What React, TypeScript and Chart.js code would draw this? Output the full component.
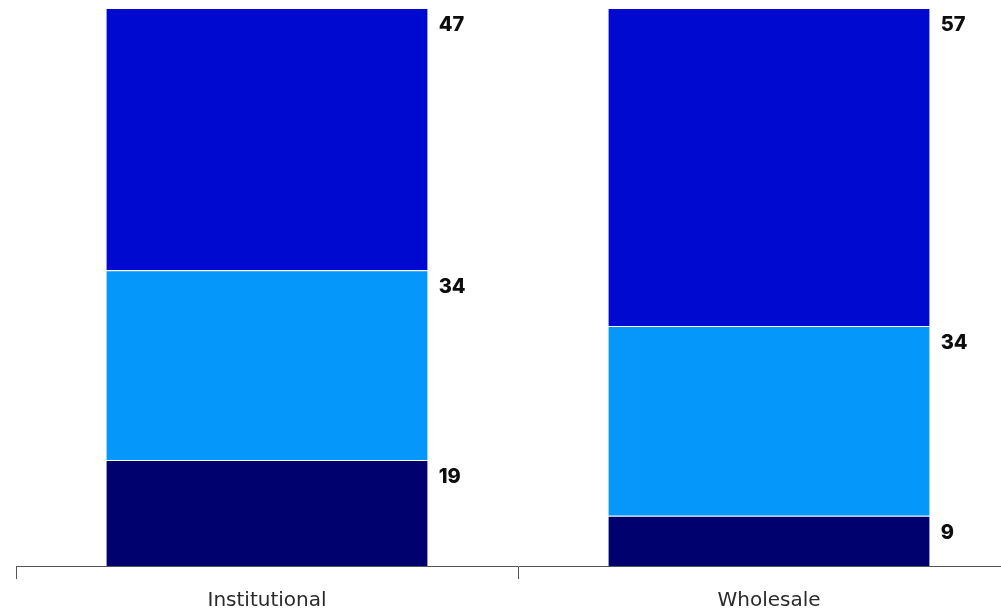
import React, { useEffect, useRef } from "react";
import { Chart, registerables } from "chart.js";

Chart.register(...registerables);

const categories = ["Institutional", "Wholesale"];
const seriesBottom = [19, 9];
const seriesMiddle = [34, 34];
const seriesTop = [47, 57];
const seriesColors = ["#00006f", "#0598fa", "#0009cf"];

const valueLabels = {
  id: "valueLabels",
  afterDatasetsDraw(chart: any) {
    const ctx = chart.ctx;
    ctx.save();
    ctx.fillStyle = "#0d0d0d";
    ctx.font = "800 20px Inter, 'DejaVu Sans', sans-serif";
    ctx.textAlign = "left";
    ctx.textBaseline = "middle";
    chart.data.datasets.forEach((ds: any, di: number) => {
      const meta = chart.getDatasetMeta(di);
      meta.data.forEach((bar: any, i: number) => {
        const props = bar.getProps(["x", "y", "width"], true);
        ctx.fillText(String(ds.data[i]), props.x + props.width / 2 + 11, props.y + 17);
      });
    });
    ctx.restore();
  },
};

export default function App() {
  const ref = useRef<HTMLCanvasElement>(null);
  useEffect(() => {
    if (!ref.current) return;
    const mk = (label: string, data: number[], color: string) => ({
      label,
      data,
      backgroundColor: color,
      borderColor: "#ffffff",
      borderWidth: { top: 1, left: 0, right: 0, bottom: 0 },
      borderSkipped: false as any,
      barPercentage: 0.64,
      categoryPercentage: 1,
    });
    const chart = new Chart(ref.current, {
      type: "bar",
      data: {
        labels: categories,
        datasets: [
          mk("Bottom", seriesBottom, seriesColors[0]),
          mk("Middle", seriesMiddle, seriesColors[1]),
          mk("Top", seriesTop, seriesColors[2]),
        ],
      },
      options: {
        animation: false,
        responsive: false,
        maintainAspectRatio: false,
        layout: { padding: { left: 16, right: 20, top: 8, bottom: 0 } },
        plugins: { legend: { display: false }, tooltip: { enabled: false } },
        scales: {
          x: {
            stacked: true,
            grid: {
              display: true,
              drawOnChartArea: false,
              drawTicks: true,
              tickLength: 13,
              color: "#555555",
              lineWidth: 1,
              offset: true,
            },
            border: { display: true, color: "#555555", width: 1 },
            ticks: {
              color: "#2a2a2a",
              font: { family: "'DejaVu Sans', sans-serif", size: 20, weight: 400 as any },
              padding: 10,
            },
          },
          y: {
            stacked: true,
            display: false,
            min: 0,
            max: 100,
          },
        },
      },
      plugins: [valueLabels],
    });
    return () => chart.destroy();
  }, []);
  return (
    <div style={{ position: "fixed", left: 0, top: 0, width: 1001, height: 614, overflow: "hidden", background: "#fff" }}>
      <canvas ref={ref} width={1040} height={623} style={{ display: "block", width: 1040, height: 623 }} />
    </div>
  );
}
